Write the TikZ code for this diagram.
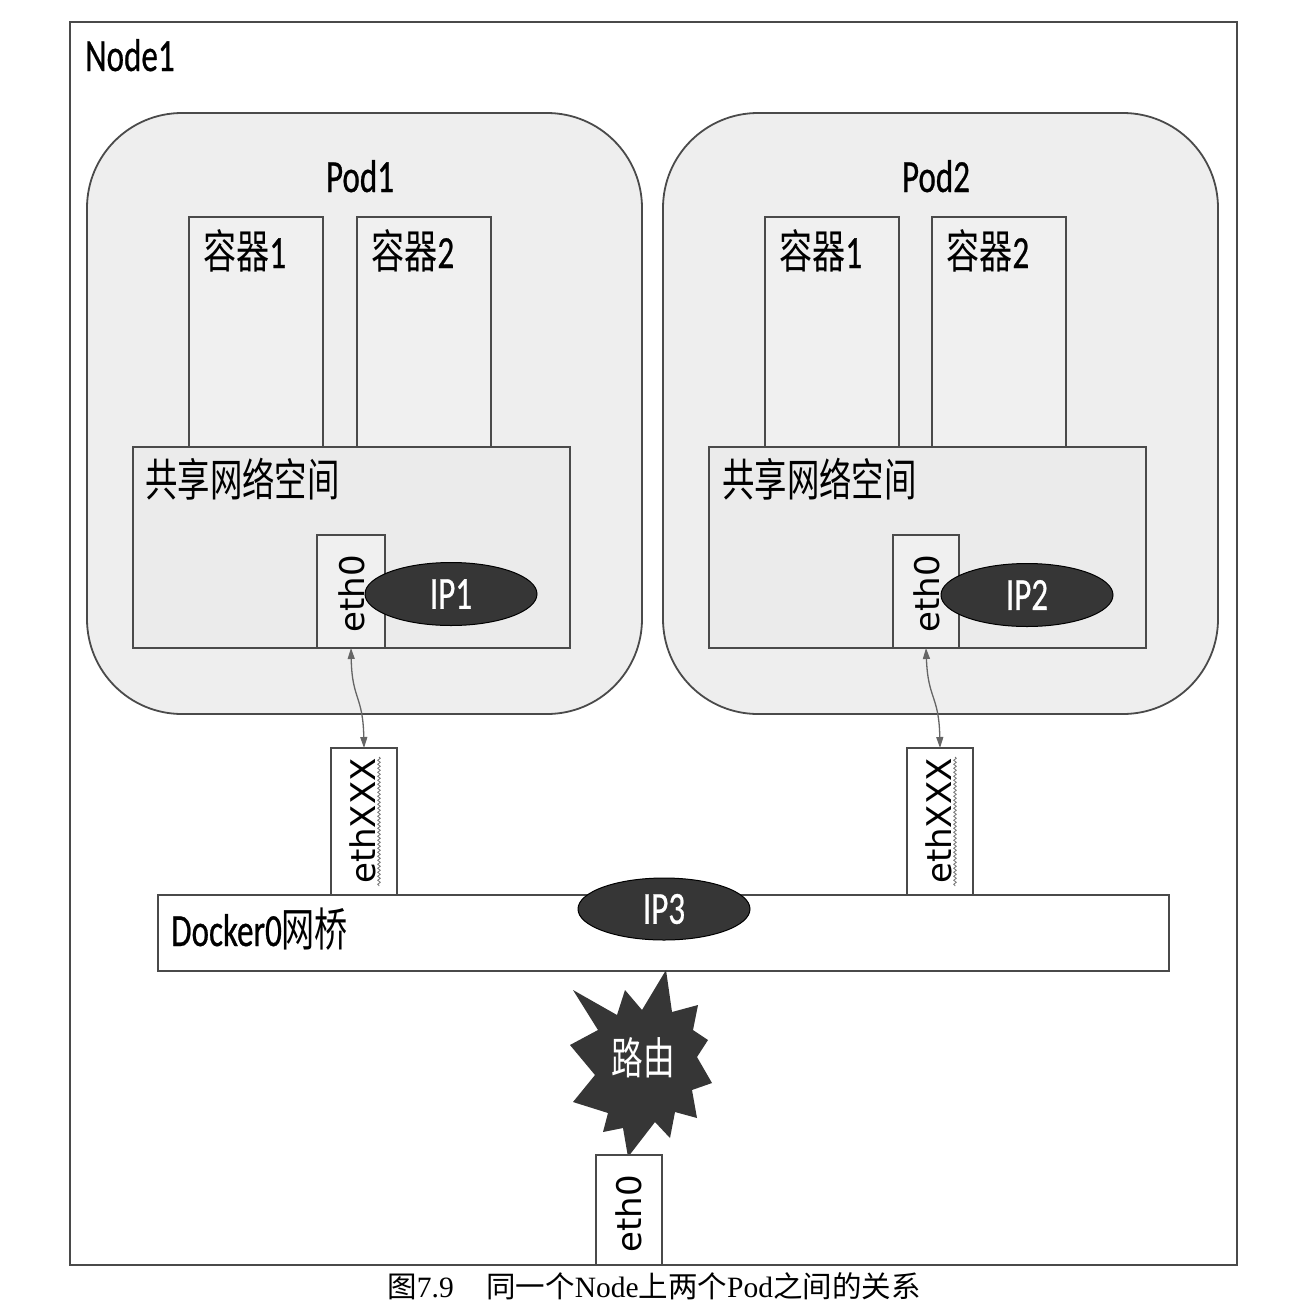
\documentclass[tikz,border=0pt]{standalone}
\usepackage{fontspec}
\usepackage{graphicx}
\setmainfont{Carlito}[UprightFeatures={FakeBold=0.7}]
\newfontfamily\cjk{Noto Sans CJK SC}
\newfontfamily\dvs{DejaVu Sans}
\newfontfamily\capserif{Liberation Serif}
\usetikzlibrary{arrows.meta,decorations.pathmorphing,shapes.geometric}
\newcommand{\sq}[1]{\scalebox{0.72}[1]{#1}}
\definecolor{podfill}{HTML}{EEEEEE}
\definecolor{boxfill}{HTML}{F0F0F0}
\definecolor{netfill}{HTML}{EBEBEB}
\definecolor{edge}{HTML}{4A4A4A}
\definecolor{dark}{HTML}{363636}
\tikzset{
  frame/.style={draw=edge, line width=1.6pt, inner sep=0pt, outer sep=0pt, anchor=north west},
  podbox/.style={frame, fill=podfill, rounded corners=95pt, line width=1.8pt},
  ctbox/.style={frame, fill=boxfill},
  netbox/.style={frame, fill=netfill},
  ifbox/.style={frame, fill=boxfill, line width=1.3pt},
  whitebox/.style={frame, fill=white},
  lab/.style={font=\fontsize{46}{50}\selectfont, inner sep=0pt, anchor=base west},
  iplab/.style={ellipse, draw=black, line width=1pt, fill=dark, text=white, inner sep=0pt,
                font=\fontsize{46}{50}\selectfont, minimum width=172pt, minimum height=63pt},
  rot/.style={font=\dvs\fontsize{34}{38}\selectfont, rotate=90, inner sep=0pt},
  link/.style={draw=edge!85, line width=1.3pt, {Triangle[length=11pt,width=7pt]}-{Triangle[length=11pt,width=7pt]}},
  squig/.style={draw=black!55, line width=0.8pt, decorate, decoration={snake, segment length=4pt, amplitude=1.3pt}}
}
\begin{document}
\begin{tikzpicture}[x=1pt, y=-1pt]
\useasboundingbox (0,0) rectangle (1302,1304);
% Node1 frame
\node[frame, fill=white, minimum width=1167pt, minimum height=1243pt, line width=1.4pt] (node1) at (70,22) {};
\node[lab] (node1lbl) at (85,71) {\sq{Node1}};
% Pods
\node[podbox, minimum width=555pt, minimum height=601pt] (pod1) at (87,113) {};
\node[podbox, minimum width=555pt, minimum height=601pt] (pod2) at (663,113) {};
\node[lab, anchor=base] (pod1lbl) at (360,192) {\sq{Pod1}};
\node[lab, anchor=base] (pod2lbl) at (936,192) {\sq{Pod2}};
% containers
\node[ctbox, minimum width=134pt, minimum height=230pt] (c11) at (189,217) {};
\node[ctbox, minimum width=134pt, minimum height=230pt] (c12) at (357,217) {};
\node[ctbox, minimum width=134pt, minimum height=230pt] (c21) at (765,217) {};
\node[ctbox, minimum width=134pt, minimum height=230pt] (c22) at (932,217) {};
\node[lab] (c11l) at (203,268) {\sq{{\cjk 容器}1}};
\node[lab] (c12l) at (371,268) {\sq{{\cjk 容器}2}};
\node[lab] (c21l) at (779,268) {\sq{{\cjk 容器}1}};
\node[lab] (c22l) at (946,268) {\sq{{\cjk 容器}2}};
% shared net boxes
\node[netbox, minimum width=437pt, minimum height=201pt] (net1) at (133,447) {};
\node[netbox, minimum width=437pt, minimum height=201pt] (net2) at (709,447) {};
\node[lab, font=\cjk\fontsize{45}{50}\selectfont] (net1l) at (145,496) {\sq{共享网络空间}};
\node[lab, font=\cjk\fontsize{45}{50}\selectfont] (net2l) at (722,496) {\sq{共享网络空间}};
% eth0 boxes in pods
\node[ifbox, minimum width=68pt, minimum height=113pt] (e1) at (317,535) {};
\node[ifbox, minimum width=66pt, minimum height=113pt] (e2) at (893,535) {};
\node[rot] (e1l) at (352,594) {eth0};
\node[rot] (e2l) at (927,594) {eth0};
% IP ellipses
\node[iplab] (ip1) at (451,594) {\sq{IP1}};
\node[iplab] (ip2) at (1027,595) {\sq{IP2}};
% ethXXX boxes
\node[whitebox, line width=1.3pt, minimum width=66pt, minimum height=147pt] (x1) at (331,748) {};
\node[whitebox, line width=1.3pt, minimum width=66pt, minimum height=147pt] (x2) at (907,748) {};
\node[rot] (x1l) at (363,821) {ethXXX};
\node[rot] (x2l) at (939,821) {ethXXX};
\coordinate (s1a) at (379,757); \coordinate (s1b) at (379,886);
\coordinate (s2a) at (955,757); \coordinate (s2b) at (955,886);
\draw[squig] (s1a) -- (s1b);
\draw[squig] (s2a) -- (s2b);
% links
\draw[link] (e1.south) .. controls (352,700) and (363,695) .. (x1.north);
\draw[link] (e2.south) .. controls (928,700) and (939,695) .. (x2.north);
% Docker0 bridge
\node[whitebox, minimum width=1011pt, minimum height=76pt] (docker) at (158,895) {};
\node[lab] (dockerl) at (171,946) {\sq{Docker0{\cjk 网桥}}};
\node[iplab, minimum height=62pt] (ip3) at (664,909) {\sq{IP3}};
% router star
\fill[dark] (666,970) -- (672,1012) -- (698,1005) -- (693,1030) -- (708,1040) -- (697,1057)
  -- (712,1083) -- (692,1090) -- (697,1118) -- (675,1112) -- (670,1138) -- (655,1122)
  -- (628,1157) -- (623,1128) -- (603,1132) -- (608,1113) -- (573,1102) -- (595,1075)
  -- (570,1045) -- (598,1030) -- (573,990) -- (617,1015) -- (625,990) -- (642,1010) -- cycle;
\node[inner sep=0pt, text=white, font=\cjk\fontsize{44}{48}\selectfont] (router) at (643,1058) {\sq{路由}};
% physical eth0
\node[whitebox, line width=1.3pt, minimum width=66pt, minimum height=110pt] (eth0) at (596,1155) {};
\node[rot] (eth0l) at (629,1214) {eth0};
% caption
\node[inner sep=0pt, font=\capserif\fontsize{29.5}{32}\selectfont] (cap) at (654,1286)
  {{\cjk 图}7.9\hspace{1.1em}{\cjk 同一个}Node{\cjk 上两个}Pod{\cjk 之间的关系}};
\end{tikzpicture}
\end{document}
